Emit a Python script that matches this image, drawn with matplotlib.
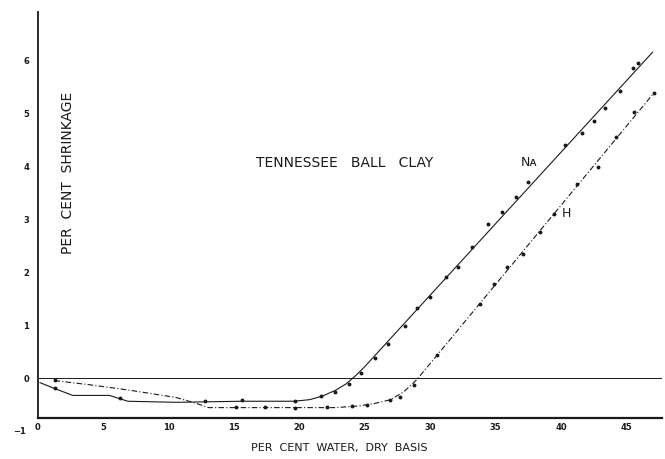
"""Shrinkage curves for Tennessee ball clay (Na and H forms)."""

from __future__ import annotations

import matplotlib

matplotlib.use("Agg")
import matplotlib.pyplot as plt


# Na clay: fitted curve and measured points
NA_LINE_X = [0.2, 1.3, 2.7, 5.5, 6.9, 10.6, 15.6, 19.6, 20.8, 21.8, 22.8, 23.6, 24.3, 25.0, 47.0]
NA_LINE_Y = [-0.08, -0.19, -0.32, -0.32, -0.43, -0.45, -0.43, -0.43, -0.40, -0.33, -0.22, -0.10, 0.05, 0.22, 6.15]
NA_DOTS_X = [1.3, 6.3, 12.8, 15.6, 19.7, 21.7, 22.7, 23.8, 24.7, 25.8, 26.8, 28.1, 29.0, 30.0,
             31.2, 32.1, 33.2, 34.4, 35.5, 36.6, 37.5, 40.3, 41.6, 42.5, 43.4, 44.5, 45.5, 45.9]
NA_DOTS_Y = [-0.18, -0.37, -0.42, -0.41, -0.42, -0.33, -0.25, -0.10, 0.10, 0.38, 0.64, 0.98, 1.32, 1.53,
             1.91, 2.10, 2.47, 2.91, 3.14, 3.42, 3.70, 4.40, 4.63, 4.85, 5.10, 5.42, 5.85, 5.95]

# H clay: fitted curve and measured points
H_LINE_X = [1.3, 4.0, 7.0, 10.6, 12.0, 13.1, 17.3, 22.8, 24.5, 25.8, 27.0, 28.0, 29.0, 47.1]
H_LINE_Y = [-0.04, -0.12, -0.22, -0.36, -0.46, -0.55, -0.55, -0.55, -0.52, -0.47, -0.40, -0.25, -0.02, 5.38]
H_DOTS_X = [1.3, 15.2, 17.4, 19.7, 22.1, 24.0, 25.2, 26.9, 27.7, 28.8, 30.5, 33.8, 34.9, 35.9,
            37.1, 38.4, 39.5, 41.2, 42.8, 44.2, 45.6, 47.1]
H_DOTS_Y = [-0.03, -0.54, -0.54, -0.56, -0.54, -0.52, -0.50, -0.41, -0.35, -0.12, 0.44, 1.41, 1.78, 2.10,
            2.35, 2.76, 3.10, 3.67, 3.99, 4.56, 5.03, 5.38]

X_TICKS = [0, 5, 10, 15, 20, 25, 30, 35, 40, 45]
Y_TICKS = [0, 1, 2, 3, 4, 5, 6]

INK = "#1a1a1a"


def main() -> None:
    fig = plt.figure(figsize=(6.65, 4.59), dpi=100)
    ax = fig.add_axes([0.0564, 0.09, 0.9386, 0.884])

    ax.axhline(0, color=INK, lw=0.7, zorder=1)

    ax.plot(NA_LINE_X, NA_LINE_Y, color=INK, lw=0.8)
    ax.plot(NA_DOTS_X, NA_DOTS_Y, ls="none", marker="o", ms=1.8, color=INK)
    ax.plot(H_LINE_X, H_LINE_Y, color=INK, lw=0.8, ls=(0, (5, 2, 1, 2)))
    ax.plot(H_DOTS_X, H_DOTS_Y, ls="none", marker="o", ms=1.8, color=INK)

    ax.set_xlim(0, 47.7)
    ax.set_ylim(-0.74, 6.91)
    ax.set_xticks(X_TICKS)
    ax.set_yticks(Y_TICKS)
    ax.set_xticklabels([str(t) for t in X_TICKS], fontsize=6, fontweight="bold", color=INK)
    ax.set_yticklabels([str(t) for t in Y_TICKS], fontsize=6, fontweight="bold", color=INK)
    ax.tick_params(axis="x", length=0, pad=4)
    ax.tick_params(axis="y", length=0, pad=6)
    ax.text(-0.9, -1.0, "\u22121", fontsize=6, fontweight="bold", color=INK,
            ha="right", va="center", clip_on=False)

    for side in ("top", "right"):
        ax.spines[side].set_visible(False)
    ax.spines["left"].set_linewidth(1.3)
    ax.spines["bottom"].set_linewidth(1.6)
    ax.spines["left"].set_color(INK)
    ax.spines["bottom"].set_color(INK)

    ax.text(23.5, 4.07, "TENNESSEE   BALL   CLAY", fontsize=10, color=INK, ha="center", va="center")
    ax.text(37.6, 4.07, "N\u1d00", fontsize=9, color=INK, ha="center", va="center")
    ax.text(40.4, 3.11, "H", fontsize=9, color=INK, ha="center", va="center")
    ax.text(2.33, 3.88, "PER  CENT  SHRINKAGE", fontsize=10, color=INK, rotation=90,
            ha="center", va="center")
    fig.text(339 / 665, 1 - 448 / 459, "PER  CENT  WATER,  DRY  BASIS", fontsize=8, color=INK,
             ha="center", va="center")

    fig.savefig("out.png", dpi=100)
    plt.close(fig)


if __name__ == "__main__":
    main()
